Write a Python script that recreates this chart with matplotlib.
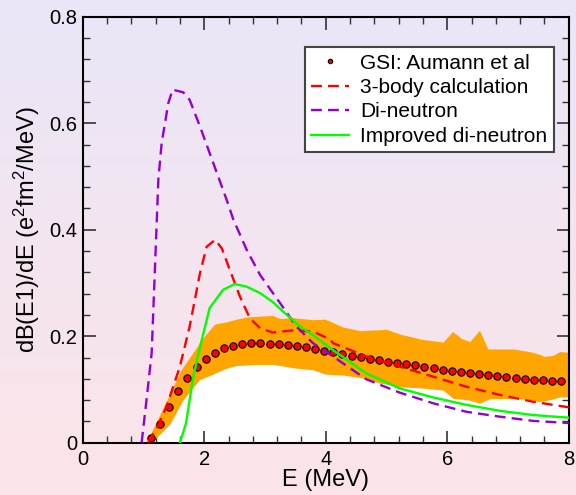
import numpy as np
import matplotlib
matplotlib.use("Agg")
import matplotlib.pyplot as plt
from matplotlib.colors import LinearSegmentedColormap
from matplotlib.ticker import MultipleLocator

plt.rcParams['font.family'] = ['Liberation Sans', 'DejaVu Sans']
plt.rcParams['mathtext.fontset'] = 'custom'
plt.rcParams['mathtext.rm'] = 'Liberation Sans'
plt.rcParams['mathtext.it'] = 'Liberation Sans:italic'
plt.rcParams['mathtext.default'] = 'regular'

# GSI data (Aumann et al)
gsi_x = [1.125, 1.275, 1.425, 1.575, 1.725, 1.875, 2.025, 2.175, 2.325, 2.475,
         2.625, 2.775, 2.925, 3.075, 3.225, 3.375, 3.525, 3.675, 3.825, 3.975,
         4.125, 4.275, 4.425, 4.575, 4.725, 4.875, 5.025, 5.175, 5.325, 5.475,
         5.625, 5.775, 5.925, 6.075, 6.225, 6.375, 6.525, 6.675, 6.825, 6.975,
         7.125, 7.275, 7.425, 7.575, 7.725, 7.875]
gsi_y = [0.008, 0.035, 0.067, 0.097, 0.122, 0.142, 0.157, 0.169, 0.177, 0.182,
         0.186, 0.187, 0.187, 0.186, 0.185, 0.183, 0.181, 0.179, 0.176, 0.173,
         0.170, 0.166, 0.1635, 0.161, 0.158, 0.155, 0.152, 0.150, 0.147, 0.145,
         0.143, 0.140, 0.137, 0.135, 0.133, 0.131, 0.129, 0.127, 0.125, 0.1235,
         0.1215, 0.120, 0.118, 0.117, 0.116, 0.115]

# error band
band_x = [1.08, 1.13, 1.44, 1.60, 1.65, 1.88, 1.93, 2.15, 2.18, 2.37, 2.53, 2.70, 2.81,
          2.97, 3.13, 3.25, 3.46, 3.52, 3.79, 3.99, 4.29, 4.59, 4.62, 4.89, 5.0, 5.22,
          5.55, 5.66, 5.93, 6.09, 6.10, 6.23, 6.37, 6.53, 6.67, 6.70, 7.08, 7.14,
          7.36, 7.52, 7.60, 7.74, 7.85, 8.0]
band_hi = [0.011, 0.020, 0.093, 0.133, 0.142, 0.180, 0.190, 0.220, 0.223, 0.227, 0.232, 0.236, 0.237,
           0.238, 0.239, 0.233, 0.235, 0.234, 0.231, 0.232, 0.217, 0.210, 0.211, 0.212, 0.213, 0.204,
           0.195, 0.193, 0.189, 0.209, 0.208, 0.196, 0.190, 0.211, 0.176, 0.176, 0.176, 0.175,
           0.171, 0.166, 0.162, 0.164, 0.171, 0.170]
band_lo = [0.0, 0.0, 0.036, 0.070, 0.080, 0.113, 0.119, 0.129, 0.131, 0.140, 0.145, 0.146, 0.147,
           0.147, 0.147, 0.145, 0.141, 0.140, 0.137, 0.129, 0.127, 0.122, 0.121, 0.112, 0.110, 0.105,
           0.103, 0.102, 0.099, 0.084, 0.083, 0.082, 0.080, 0.074, 0.081, 0.083, 0.083, 0.083,
           0.081, 0.077, 0.079, 0.082, 0.086, 0.086]

# 3-body calculation
tb_x = [1.08, 1.11, 1.22, 1.38, 1.60, 1.76, 1.93, 2.04, 2.18, 2.29, 2.42, 2.59, 2.75, 2.92,
        3.13, 3.46, 3.79, 4.07, 4.12, 4.67, 5.22, 5.77, 6.32, 6.86, 7.41, 8.0]
tb_y = [0.0, 0.008, 0.027, 0.068, 0.143, 0.218, 0.318, 0.368, 0.381, 0.365, 0.325, 0.274,
        0.234, 0.215, 0.207, 0.211, 0.209, 0.194, 0.187, 0.162, 0.143, 0.124, 0.105, 0.090,
        0.077, 0.0665]

# Di-neutron
dn_x = [0.97, 1.05, 1.135, 1.19, 1.245, 1.30, 1.41, 1.48, 1.655, 1.76, 1.93, 2.15, 2.37,
        2.48, 2.70, 2.92, 3.25, 3.52, 3.79, 4.12, 4.40, 4.67, 5.22, 5.77, 6.32, 6.86, 7.41, 8.0]
dn_y = [0.0, 0.080, 0.168, 0.330, 0.494, 0.563, 0.638, 0.663, 0.658, 0.644, 0.594, 0.525,
        0.456, 0.419, 0.362, 0.315, 0.262, 0.218, 0.187, 0.162, 0.140, 0.119, 0.094, 0.074,
        0.058, 0.049, 0.041, 0.037]

# Improved di-neutron
idn_x = [1.60, 1.70, 1.82, 1.96, 2.09, 2.31, 2.50, 2.70, 2.92, 3.13, 3.36, 3.57, 3.79,
         4.12, 4.67, 5.22, 5.77, 6.32, 6.86, 7.41, 8.0]
idn_y = [0.0, 0.036, 0.124, 0.193, 0.253, 0.287, 0.298, 0.293, 0.281, 0.264, 0.240, 0.219,
         0.202, 0.174, 0.130, 0.102, 0.085, 0.071, 0.060, 0.052, 0.047]

xticks = [0, 2, 4, 6, 8]
xtick_labels = ['0', '2', '4', '6', '8']
yticks = [0, 0.2, 0.4, 0.6, 0.8]
ytick_labels = ['0', '0.2', '0.4', '0.6', '0.8']

W, H, DPI = 576, 495, 100
fig = plt.figure(figsize=(W / DPI, H / DPI), dpi=DPI)

# gradient background
bg = fig.add_axes([0, 0, 1, 1], zorder=-10)
cmap = LinearSegmentedColormap.from_list('bg', ['#EAE6F8', '#FCE4E8'])
bg.imshow(np.linspace(0, 1, 256).reshape(-1, 1), aspect='auto', cmap=cmap,
          extent=[0, 1, 0, 1])
bg.set_axis_off()

ax = fig.add_axes([82.7 / W, 1 - 442.7 / H, 486 / W, 426 / H])
ax.patch.set_alpha(0)

ax.fill_between(band_x, 0, band_lo, color='white', lw=0, zorder=1)
ax.fill_between(band_x, band_lo, band_hi, color='#FFA500', lw=0, zorder=2)

ax.plot(tb_x, tb_y, color='#FF0000', lw=1.7, dashes=(4.6, 2.6), zorder=4,
        label='3-body calculation')
ax.plot(dn_x, dn_y, color='#9400D3', lw=1.7, dashes=(4.6, 2.6), zorder=4,
        label='Di-neutron')
ax.plot(idn_x, idn_y, color='#00FF00', lw=1.7, zorder=4,
        label='Improved di-neutron')
ax.plot(gsi_x, gsi_y, ls='none', marker='o', ms=5.3, mfc='#FF0000', mec='black',
        mew=0.8, zorder=3, label='GSI: Aumann et al')

ax.set_xlim(0, 8)
ax.set_ylim(0, 0.8)
ax.set_xticks(xticks)
ax.set_xticklabels(xtick_labels)
ax.set_yticks(yticks)
ax.set_yticklabels(ytick_labels)
ax.xaxis.set_minor_locator(MultipleLocator(0.4))
ax.yaxis.set_minor_locator(MultipleLocator(0.04))
ax.tick_params(which='both', direction='in', top=True, right=True, colors='#333333',
               labelcolor='black', labelsize=14.5)
ax.tick_params(which='major', length=9, width=1.2)
ax.tick_params(which='minor', length=4.8, width=1.0)
ax.tick_params(axis='x', which='major', pad=5)
ax.tick_params(axis='y', which='major', pad=4)
for s in ax.spines.values():
    s.set_linewidth(1.5)
    s.set_color('black')

ax.set_xlabel('E (MeV)', fontsize=17, labelpad=0)
ax.set_ylabel(r'dB(E1)/dE (e$^2$fm$^2$/MeV)', fontsize=17, labelpad=5)

handles, labels = ax.get_legend_handles_labels()
order = [3, 0, 1, 2]
leg = ax.legend([handles[i] for i in order], [labels[i] for i in order],
                loc='upper left', bbox_to_anchor=(0.4574, 0.928), fontsize=15,
                frameon=True, fancybox=False, framealpha=1, edgecolor='#444444',
                handlelength=1.8, labelspacing=0.26, borderpad=0.3,
                handletextpad=0.55, borderaxespad=0, markerscale=0.6)
leg.get_frame().set_linewidth(1.5)

fig.savefig('out.png', dpi=DPI)
